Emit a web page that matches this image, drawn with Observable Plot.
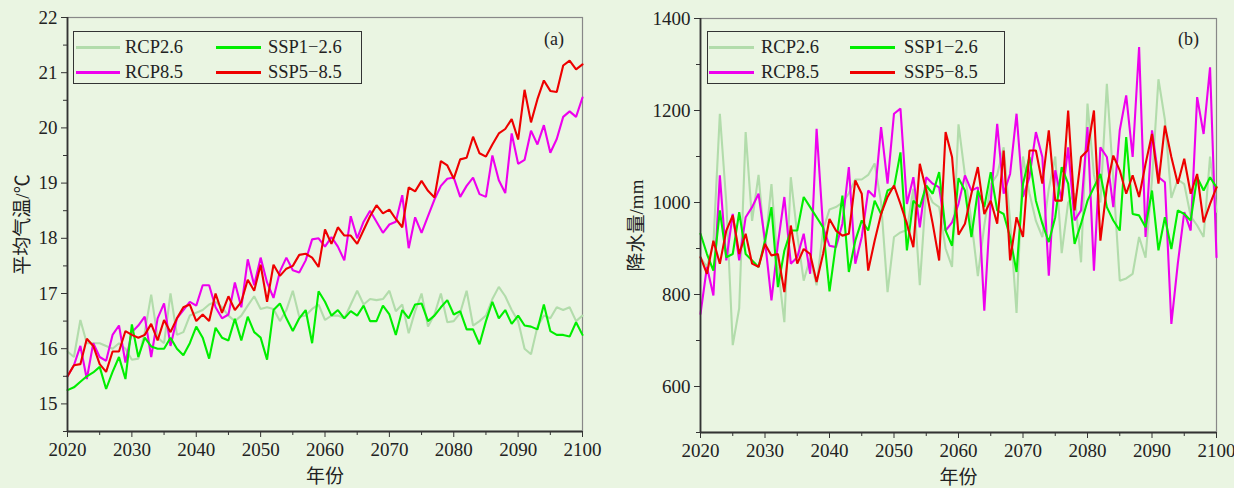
<!DOCTYPE html>
<html><head><meta charset="utf-8">
<script src="https://cdn.jsdelivr.net/npm/d3@7"></script>
<script src="https://cdn.jsdelivr.net/npm/@observablehq/plot@0.6"></script>
<style>
html,body{margin:0;padding:0;}
body{background:#eaf5e2;width:1234px;height:488px;overflow:hidden;position:relative;font-family:"Liberation Serif","Times New Roman","Noto Sans CJK SC",serif;}
.panel{position:absolute;top:0;}
.legend{position:absolute;border:1.5px solid #333;box-sizing:border-box;}
.item{position:absolute;font-size:18.5px;color:#222;line-height:18px;white-space:nowrap;}
.sw{position:absolute;height:2.5px;}
.tag{position:absolute;font-size:18px;color:#222;}
</style>
</head><body>
<div id="left" class="panel" style="left:0"></div>
<div id="right" class="panel" style="left:617px"></div>
<script>
const years = d3.range(2020, 2101);
const seriesNames = ["RCP2.6", "SSP1\u22122.6", "RCP8.5", "SSP5\u22128.5"];
const seriesColors = ["#b2dcab", "#00ee00", "#ee00ee", "#ee0000"];

// (a) mean temperature, °C
const rcp26T = [15.95,15.85,16.52,16.1,16.1,16.1,16.05,16.0,16.1,16.0,
 15.8,15.82,16.3,16.98,16.2,16.1,17.0,16.25,16.3,16.6,
 16.65,16.7,16.8,16.85,16.75,16.6,16.5,16.6,16.78,16.95,
 16.72,16.75,16.72,16.5,16.7,17.05,16.58,16.6,16.72,16.8,
 16.52,16.6,16.6,16.55,16.8,17.05,16.8,16.9,16.88,16.9,
 17.05,16.68,16.8,16.28,16.68,17.0,16.4,16.62,17.0,16.48,
 16.5,16.65,17.05,16.42,16.5,16.6,16.9,17.12,16.95,16.7,
 16.5,16.0,15.9,16.4,16.6,16.55,16.75,16.7,16.75,16.5,16.6];
const ssp126T = [15.25,15.3,15.4,15.5,15.57,15.67,15.27,15.58,15.85,15.45,
 16.44,15.85,16.2,16.04,16.0,16.0,16.2,16.0,15.88,16.1,
 16.4,16.2,15.82,16.38,16.2,16.15,16.54,16.15,16.58,16.3,
 16.2,15.8,16.7,16.82,16.55,16.32,16.55,16.7,16.1,17.04,
 16.85,16.6,16.7,16.55,16.68,16.6,16.78,16.5,16.5,16.78,
 16.62,16.25,16.7,16.55,16.8,16.82,16.5,16.6,16.75,16.88,
 16.62,16.68,16.35,16.35,16.08,16.5,16.85,16.55,16.7,16.45,
 16.6,16.42,16.4,16.35,16.8,16.32,16.25,16.25,16.22,16.48,16.25];
const rcp85T = [15.5,15.7,16.05,15.45,16.1,15.85,15.78,16.25,16.42,15.75,
 16.3,16.42,16.58,15.85,16.55,16.82,16.05,16.55,16.7,16.85,
 16.78,17.15,17.15,16.75,16.55,16.62,17.2,16.75,17.62,17.15,
 17.65,17.2,16.92,17.4,17.65,17.42,17.38,17.6,17.98,18.0,
 17.85,18.02,17.85,17.6,18.4,18.0,18.3,18.5,18.3,18.1,
 18.25,18.3,18.78,17.82,18.38,18.1,18.4,18.7,18.95,19.08,
 19.1,18.75,18.95,19.1,18.8,18.75,19.5,19.05,18.82,19.9,
 19.35,19.42,19.95,19.7,20.05,19.55,19.8,20.2,20.3,20.2,20.55];
const ssp585T = [15.5,15.7,15.72,16.18,16.05,15.72,15.58,15.95,15.95,16.32,
 16.25,16.2,16.25,16.45,16.15,16.52,16.3,16.55,16.75,16.8,
 16.5,16.62,16.5,17.0,16.65,16.95,16.7,16.85,17.25,17.05,
 17.52,16.85,17.52,17.32,17.45,17.5,17.7,17.72,17.65,17.48,
 18.16,17.9,18.2,18.05,18.05,17.9,18.15,18.4,18.6,18.45,
 18.52,18.35,18.2,18.92,18.85,19.04,18.86,18.74,19.4,19.32,
 19.08,19.43,19.46,19.84,19.54,19.48,19.7,19.9,19.98,20.16,
 19.79,20.69,20.1,20.52,20.86,20.67,20.65,21.13,21.22,21.06,21.15];

// (b) precipitation, mm
const rcp26P = [880,860,910,1193,1000,690,770,1153,960,1060,
 900,1040,860,740,1055,930,830,880,820,940,
 985,990,1000,1020,1050,1050,1060,1085,1000,805,
 925,935,940,1030,820,1030,1000,990,900,860,
 1170,1060,960,840,950,1040,1060,1120,960,760,
 1100,1020,960,925,1030,1100,890,1000,1020,870,
 1215,1060,1000,1258,1050,830,835,845,925,880,
 1050,1268,1180,1010,1050,1040,970,950,925,1100,980];
const ssp126P = [932,888,852,983,881,888,979,888,874,860,
 917,990,816,895,939,939,1012,990,968,946,
 807,910,1015,849,917,961,939,1004,975,1026,
 1033,1109,896,1004,990,1037,1019,1066,939,906,
 1053,1026,925,1026,990,1066,983,975,925,849,
 1041,1099,1004,954,914,968,1077,1041,910,954,
 1004,1033,1062,990,961,939,1142,975,972,946,
 1026,896,968,899,983,975,961,1055,1026,1055,1033];
const rcp85P = [758,860,798,1059,874,975,874,968,990,1019,
 917,787,910,1012,867,881,932,845,1160,946,
 906,903,954,1077,867,925,1026,1012,1164,1041,
 1193,1204,997,1055,946,1055,1041,1033,939,957,
 997,1059,1026,1033,765,1004,1171,1019,1062,1193,
 1012,1055,1153,1099,841,1070,1004,1120,961,983,
 1164,852,1120,1099,990,1157,1233,1099,1338,925,
 1157,1055,1044,736,867,979,939,1229,1149,1294,881];
const ssp585P = [881,845,917,867,939,972,888,932,867,860,
 910,885,888,805,950,867,899,888,827,888,
 964,939,928,932,1048,1019,852,917,975,1012,
 1037,997,954,903,1084,1026,954,874,1153,1099,
 930,954,1019,1077,975,1004,954,1113,874,968,
 925,1113,1113,1041,1157,1004,1004,1200,983,1099,
 1113,1200,917,1033,1102,1070,1019,1059,1012,1084,
 1149,1041,1167,1099,1041,1095,1019,1062,957,997,1033];

const tempTicks = [15,16,17,18,19,20,21,22];
const tempMinor = [14.5,15.5,16.5,17.5,18.5,19.5,20.5,21.5];
const precTicks = [600,800,1000,1200,1400];
const precMinor = [500,700,900,1100,1300];
const yearTicks = [2020,2030,2040,2050,2060,2070,2080,2090,2100];
const yearMinor = [2025,2035,2045,2055,2065,2075,2085,2095];

function makePanel(cfg) {
  const lines = cfg.values.map((vals, i) => Plot.line(
    years.map((y, j) => ({year: y, value: vals[j]})),
    {x: "year", y: "value", stroke: seriesColors[i], strokeWidth: 2.1, strokeLinejoin: "miter"}
  ));
  // draw order: RCP2.6, RCP8.5, SSP1-2.6, SSP5-8.5
  const ordered = [lines[0], lines[2], lines[1], lines[3]];
  return Plot.plot({
    width: 617, height: 488,
    marginLeft: cfg.ml, marginRight: cfg.mr, marginTop: cfg.mt, marginBottom: cfg.mb,
    style: {background: "transparent", fontFamily: '"Liberation Serif","Noto Sans CJK SC",serif', fontSize: "19px", color: "#222", overflow: "visible"},
    x: {domain: [2020, 2100]},
    y: {domain: cfg.ydomain},
    marks: [
      Plot.frame({stroke: "#888", strokeWidth: 1.2}),
      ...ordered,
      Plot.axisX({ticks: yearTicks, tickSize: 6, tickPadding: 5, tickFormat: d => String(d), fontSize: 19,
        label: "年份", labelAnchor: "center", labelArrow: "none", labelOffset: 51, stroke: "#333"}),
      Plot.axisX({ticks: yearMinor, tickSize: 4, tickFormat: () => "", label: null, stroke: "#333"}),
      Plot.axisY({ticks: cfg.major, tickSize: 6, tickPadding: 4, tickFormat: d => String(d), fontSize: 19,
        label: cfg.ylabel, labelAnchor: "center", labelArrow: "none", labelOffset: cfg.lo, stroke: "#333"}),
      Plot.axisY({ticks: cfg.minor, tickSize: 4, tickFormat: () => "", label: null, stroke: "#333"}),
      Plot.ruleX([2020], {stroke: "#333", strokeWidth: 1.8}),
      Plot.ruleY([cfg.ydomain[0]], {stroke: "#333", strokeWidth: 1.8})
    ]
  });
}

document.getElementById("left").appendChild(makePanel({
  values: [rcp26T, ssp126T, rcp85T, ssp585T],
  ml: 67, mr: 35, mt: 17, mb: 57, ydomain: [14.5, 22],
  major: tempTicks, minor: tempMinor, ylabel: "平均气温/℃", lo: 52
}));
document.getElementById("right").appendChild(makePanel({
  values: [rcp26P, ssp126P, rcp85P, ssp585P],
  ml: 83, mr: 18, mt: 18, mb: 56, ydomain: [500, 1400],
  major: precTicks, minor: precMinor, ylabel: "降水量/mm", lo: 71
}));

function addLegend(box, col1, col2, tag, tagPos) {
  const lg = document.createElement("div");
  lg.className = "legend";
  Object.assign(lg.style, {left: box[0] + "px", top: box[1] + "px", width: box[2] + "px", height: box[3] + "px"});
  document.body.appendChild(lg);
  const order = [[0, col1, 47], [1, col2, 47], [2, col1, 72], [3, col2, 72]];
  order.forEach(([i, col, cy]) => {
    const sw = document.createElement("div");
    sw.className = "sw";
    Object.assign(sw.style, {left: col[0] + "px", top: (cy - 1) + "px", width: col[1] + "px", background: seriesColors[i]});
    document.body.appendChild(sw);
    const t = document.createElement("div");
    t.className = "item";
    t.textContent = seriesNames[i];
    Object.assign(t.style, {left: col[2] + "px", top: (cy - 9) + "px"});
    document.body.appendChild(t);
  });
  const tg = document.createElement("div");
  tg.className = "tag";
  tg.textContent = tag;
  Object.assign(tg.style, {left: tagPos[0] + "px", top: tagPos[1] + "px"});
  document.body.appendChild(tg);
}
addLegend([73, 31, 289, 53], [76, 44, 125], [216, 45, 268], "(a)", [544, 29]);
addLegend([707, 31, 298, 53], [709, 45, 761], [850, 45, 904], "(b)", [1178, 29]);
</script>
</body></html>
